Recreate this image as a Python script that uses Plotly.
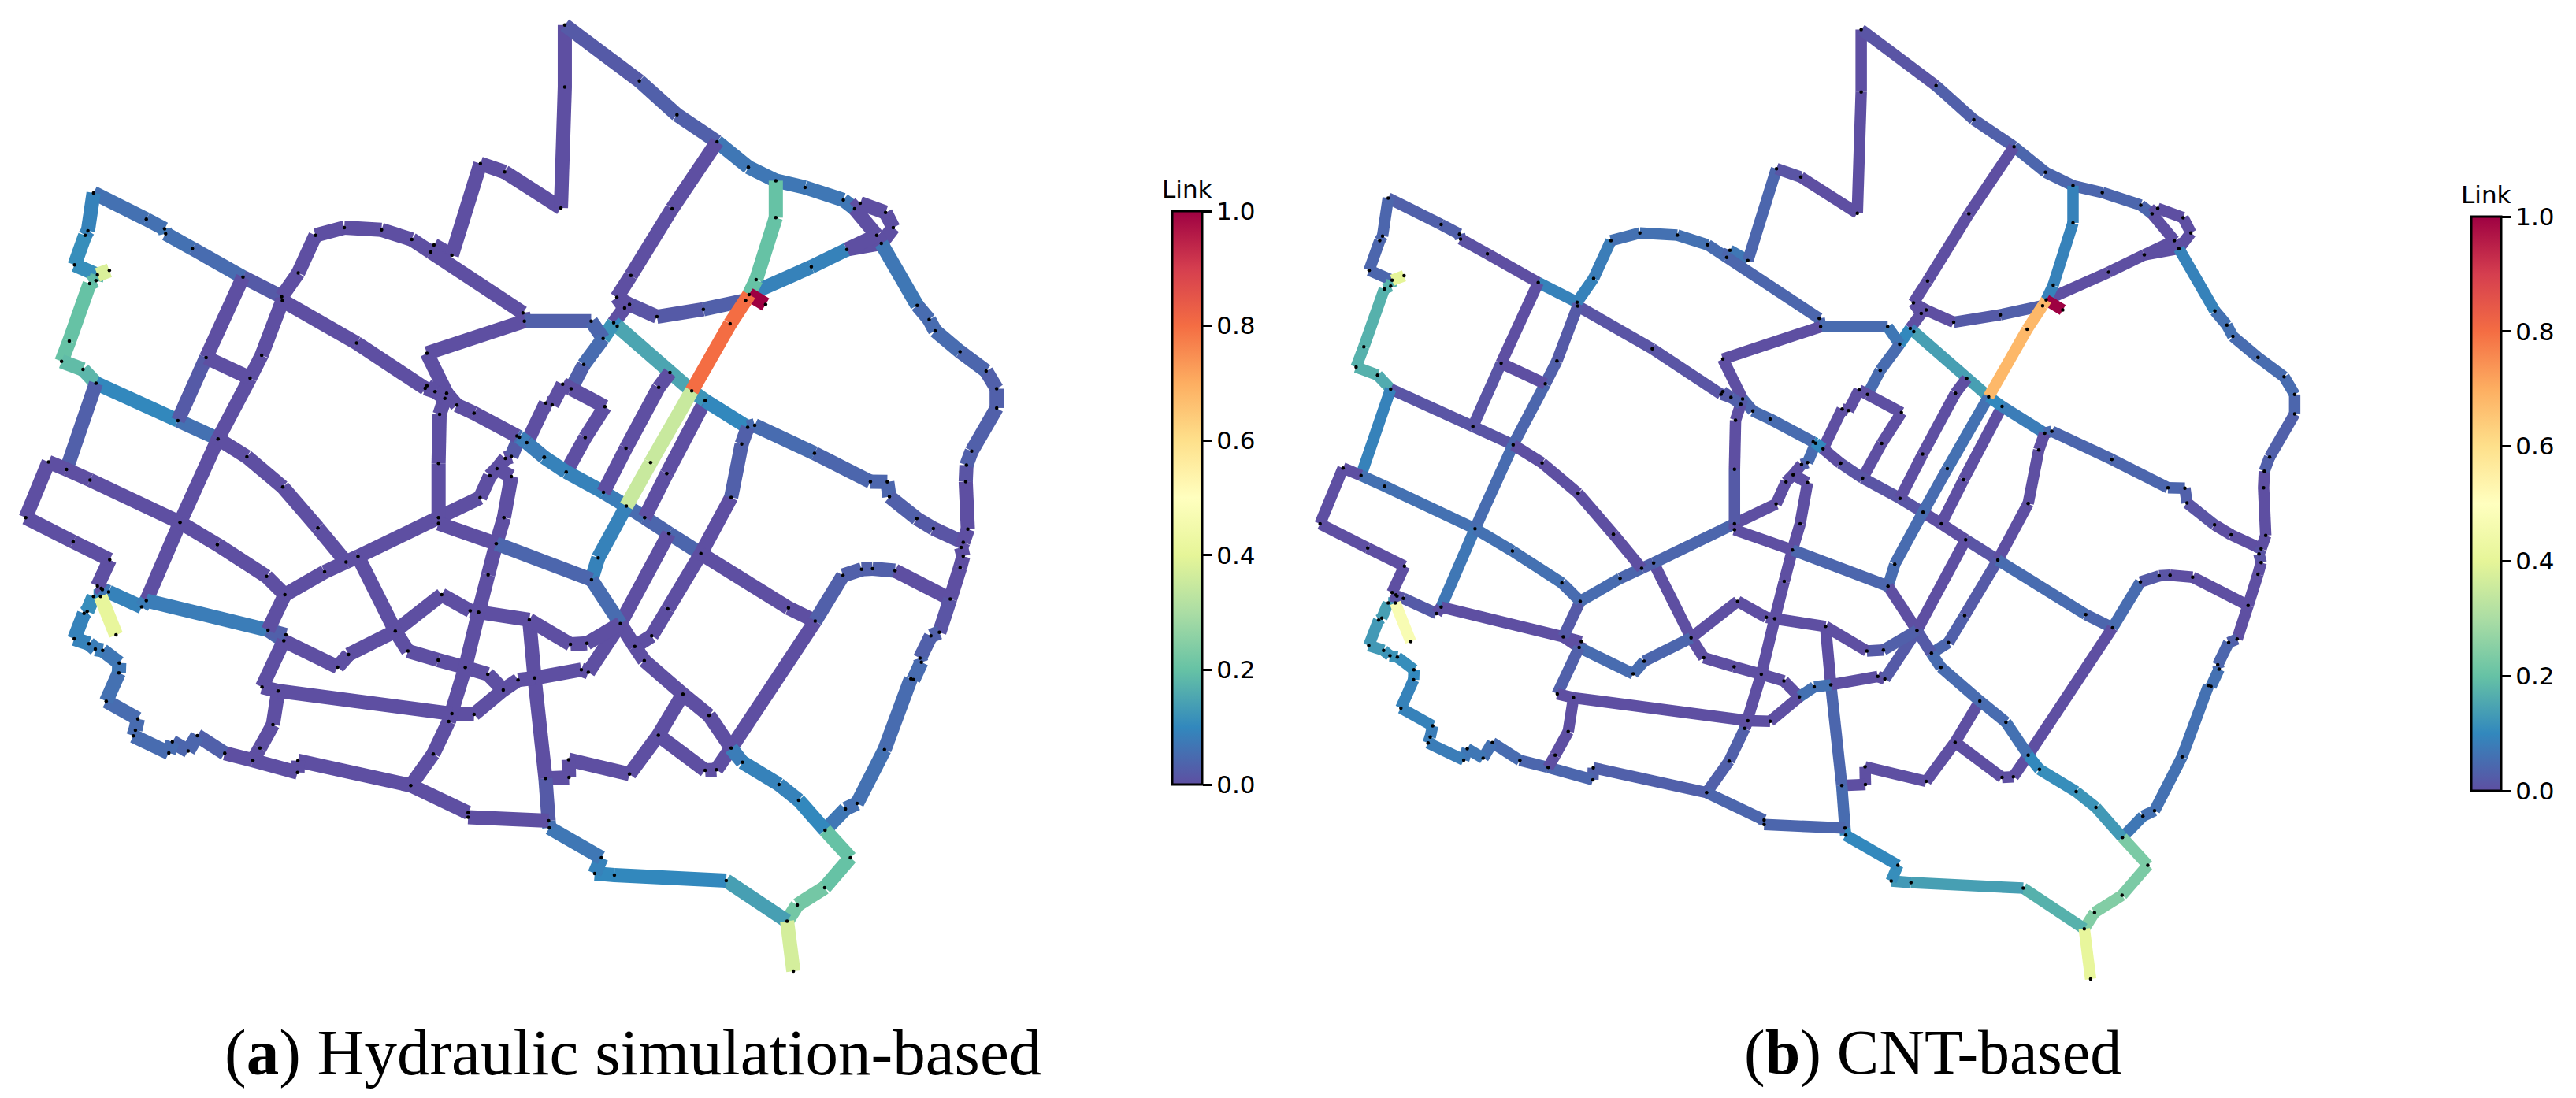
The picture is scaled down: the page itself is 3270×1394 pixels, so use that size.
"""Pipe network link sensitivity, hydraulic simulation vs CNT"""

import plotly.graph_objects as go
from plotly.colors import sample_colorscale

WIDTH = 3270
HEIGHT = 1394

# node positions in map units
node_x = [
    266, 416, 468, 471, 547, 691, 801, 803, 250, 242,
    212, 277, 311, 273, 255, 197, 175, 236, 273, 506,
    620, 586, 711, 744, 848, 897, 979, 1085, 1171, 1234,
    1225, 1285, 1014, 1214, 1209, 1237, 1270, 1265, 1299, 1348,
    1250, 1247, 1214, 1491, 1487, 1366, 1435, 1470, 1477, 1498,
    1547, 1552, 1570, 1437, 1454, 1413, 1393, 1454, 1365, 138,
    189, 256, 702, 804, 1606, 1606, 1595, 1818, 1925, 2039,
    2128, 2206, 2289, 2398, 2430, 2446, 2518, 2540, 2493, 2506,
    2408, 2307, 2206, 2150, 2130, 2120, 2177, 2000, 1868, 1790,
    1776, 1754, 1794, 1911, 1681, 1745, 1755, 1715, 1660, 1600,
    1624, 1720, 1664, 1610, 1548, 2076, 1967, 2005, 1905, 1873,
    1780, 1716, 1850, 1896, 2126, 2146, 2109, 2079, 2316, 2475,
    2523, 2529, 2608, 2642, 2659, 2730, 2804, 2834, 2834, 2763,
    2748, 2746, 73, 208, 312, 277, 288, 291, 309, 286,
    266, 248, 239, 330, 211, 253, 271, 292, 339, 338,
    302, 392, 385, 379, 490, 480, 535, 561, 639, 719,
    739, 776, 791, 745, 847, 846, 1168, 1232, 1276, 1285,
    1348, 1431, 1473, 1520, 1387, 1323, 1246, 1160, 1124, 991,
    960, 813, 807, 762, 810, 758, 618, 512, 416, 403,
    923, 984, 1018, 904, 1247, 1247, 1411, 1433, 1388, 1361,
    1337, 1256, 1505, 1331, 1331, 1551, 1560, 1562, 1781, 1833,
    1902, 1993, 1701, 1682, 1764, 1899, 1853, 1805, 1832, 1622,
    1669, 1653, 1673, 1942, 2016, 2079, 1872, 2005, 2037, 1790,
    1617, 1618, 2242, 2318, 2397, 2450, 2481, 2545, 2702, 2671,
    2647, 2616, 2620, 2590, 2597, 2515, 2437, 2404, 2346, 2271,
    2215, 2111, 2418, 2345, 2267, 2238, 2256, 2065, 1747, 1691,
    1710, 2607, 2654, 2739, 2752, 2733, 2739, 2730,
]
node_y = [
    600, 682, 712, 727, 773, 862, 923, 935, 718, 732,
    824, 855, 841, 873, 882, 1061, 1124, 1149, 1192, 1308,
    1365, 1112, 1176, 1105, 849, 732, 708, 715, 745, 762,
    784, 794, 1067, 1200, 1208, 1218, 1223, 1239, 1260, 1285,
    1289, 1441, 1099, 999, 973, 509, 535, 1356, 1360, 1377,
    1422, 1254, 1259, 1426, 1420, 1458, 1480, 1482, 1548, 1437,
    1460, 1493, 1421, 1515, 78, 271, 647, 252, 357, 441,
    520, 562, 583, 622, 649, 632, 661, 708, 732, 757,
    776, 830, 677, 870, 916, 934, 947, 962, 985, 947,
    958, 925, 857, 649, 999, 1004, 1014, 1053, 1134, 1195,
    1209, 1265, 1361, 1468, 1422, 1007, 1216, 1246, 1159, 1205,
    1394, 1531, 1439, 1473, 1329, 1323, 1381, 1547, 1410, 1498,
    1499, 1545, 950, 994, 1029, 1094, 1154, 1209, 1269, 1403,
    1447, 1498, 1610, 1685, 1741, 1823, 1830, 1834, 1841, 1855,
    1855, 1902, 1908, 1975, 1987, 2002, 2019, 2023, 2062, 2093,
    2181, 2236, 2271, 2289, 2307, 2342, 2336, 2288, 2343, 2365,
    2327, 2254, 2149, 2137, 2366, 2403, 2443, 2345, 2244, 2220,
    2222, 2146, 2115, 2109, 2097, 2076, 2053, 2025, 1963, 2036,
    2075, 1975, 1993, 1960, 1850, 1793, 1694, 1625, 1868, 1888,
    1779, 1748, 1731, 1642, 1610, 1628, 1691, 1610, 1788, 1904,
    1900, 1850, 1928, 2528, 2542, 2421, 2553, 2575, 1574, 1610,
    1659, 1722, 1735, 1803, 1940, 1894, 1978, 2011, 2055, 2004,
    2001, 2083, 2091, 2159, 2225, 2327, 2287, 2396, 2394, 2408,
    2363, 2418, 1891, 1932, 1790, 1771, 1769, 1775, 1863, 1967,
    1978, 2047, 2060, 2111, 2114, 2332, 2499, 2516, 2582, 2489,
    2440, 2371, 2668, 2761, 2815, 2865, 3021, 2739, 2722, 2717,
    2668, 1613, 1644, 1687, 1646, 1703, 1730, 1766,
]

# links: start node, end node, value in panel a, value in panel b
link_from = [
    0, 1, 2, 3, 4, 5, 6, 7, 32, 0,
    8, 9, 10, 11, 11, 13, 14, 15, 16, 17,
    18, 19, 18, 20, 22, 23, 5, 21, 21, 25,
    24, 25, 26, 27, 28, 29, 29, 31, 30, 44,
    43, 43, 42, 45, 46, 66, 65, 64, 67, 68,
    69, 70, 71, 72, 73, 74, 75, 76, 74, 77,
    78, 79, 78, 80, 81, 84, 71, 82, 83, 85,
    105, 106, 85, 87, 88, 89, 89, 91, 91, 92,
    93, 90, 95, 96, 95, 94, 97, 98, 99, 99,
    51, 51, 100, 101, 102, 50, 103, 111, 208, 209,
    210, 117, 211, 215, 216, 210, 107, 113, 108, 109,
    110, 106, 112, 208, 212, 106, 107, 114, 115, 118,
    119, 120, 121, 261, 262, 263, 263, 265, 266, 267,
    264, 131, 130, 129, 128, 127, 126, 125, 124, 123,
    122, 114, 116, 211, 232, 233, 234, 235, 236, 237,
    238, 239, 240, 241, 242, 243, 243, 245, 246, 247,
    233, 225, 228, 227, 226, 226, 229, 230, 231, 223,
    224, 218, 217, 214, 214, 225, 251, 250, 249, 248,
    252, 253, 254, 255, 255, 257, 258, 259, 260, 207,
    206, 205, 173, 173, 221, 222, 214, 220, 219, 202,
    199, 200, 201, 178, 178, 177, 176, 175, 174, 171,
    170, 169, 168, 175, 199, 198, 196, 197, 171, 172,
    168, 167, 166, 203, 204, 164, 164, 165, 159, 158,
    157, 156, 154, 155, 153, 152, 151, 150, 149, 148,
    147, 146, 145, 144, 142, 141, 140, 139, 139, 137,
    138, 137, 136, 135, 134, 133, 132, 59, 60, 61,
    187, 187, 188, 188, 183, 183, 181, 182, 180, 179,
    184, 185, 186, 187, 182, 163, 162, 161, 160, 162,
    184, 190, 191, 192, 191, 193, 63, 62, 194, 58,
    56, 55, 55, 53, 54, 47, 47, 39, 38, 36,
    37, 40, 41, 37, 35, 33, 33, 194, 195, 196,
    48, 49,
]
link_to = [
    1, 2, 3, 4, 5, 6, 7, 32, 34, 8,
    9, 10, 11, 12, 13, 14, 15, 16, 17, 18,
    19, 20, 60, 22, 23, 7, 21, 19, 22, 24,
    6, 26, 27, 28, 30, 30, 31, 45, 44, 43,
    94, 42, 36, 46, 66, 65, 64, 67, 68, 69,
    70, 71, 72, 73, 74, 75, 76, 77, 78, 79,
    79, 80, 80, 81, 84, 86, 82, 83, 84, 84,
    85, 105, 87, 88, 89, 91, 90, 90, 92, 93,
    69, 95, 96, 106, 97, 97, 98, 100, 100, 52,
    52, 49, 101, 102, 103, 103, 111, 208, 209, 210,
    211, 211, 215, 216, 217, 214, 113, 209, 109, 110,
    111, 112, 208, 212, 213, 107, 114, 115, 118, 119,
    120, 121, 261, 262, 263, 264, 265, 266, 267, 238,
    131, 130, 129, 128, 127, 126, 125, 124, 123, 122,
    79, 116, 117, 232, 233, 234, 235, 236, 237, 238,
    239, 240, 241, 242, 244, 244, 245, 246, 247, 248,
    225, 228, 227, 226, 223, 229, 230, 231, 205, 224,
    225, 223, 218, 217, 213, 251, 250, 249, 248, 252,
    253, 254, 255, 256, 257, 258, 259, 260, 207, 206,
    205, 173, 202, 221, 222, 214, 220, 219, 202, 199,
    200, 201, 178, 192, 177, 176, 175, 174, 171, 170,
    169, 168, 175, 199, 198, 196, 197, 57, 172, 173,
    167, 166, 203, 204, 206, 166, 165, 159, 158, 157,
    156, 154, 155, 153, 152, 151, 150, 149, 148, 147,
    146, 145, 144, 142, 141, 140, 139, 143, 137, 138,
    189, 136, 135, 134, 133, 132, 59, 60, 61, 187,
    20, 188, 189, 183, 182, 181, 182, 180, 179, 178,
    183, 184, 185, 186, 163, 162, 161, 160, 159, 169,
    190, 191, 192, 194, 193, 63, 62, 20, 58, 56,
    55, 53, 57, 54, 48, 48, 39, 38, 36, 37,
    40, 41, 194, 35, 34, 34, 35, 195, 196, 213,
    49, 50,
]
link_a = [
    .06, .06, .07, .06, .05, .02, 0, 0, 0, .09,
    .09, .11, .11, .38, .18, .19, .2, .2, .19, .18,
    .1, .06, .03, 0, 0, 0, 0, .02, 0, 0,
    0, 0, 0, 0, 0, 0, 0, 0, 0, 0,
    .03, 0, 0, 0, 0, 0, 0, .02, .03, .03,
    .07, .07, .07, .07, .07, 0, 0, 0, 0, 0,
    0, 0, 0, .09, .09, 1, .2, .2, .2, .8,
    .8, .8, .03, .02, .01, 0, 0, 0, 0, 0,
    0, 0, .1, .15, .12, .04, .05, .03, 0, 0,
    0, 0, 0, 0, 0, .09, .09, .08, .05, .04,
    .04, 0, 0, 0, 0, 0, 0, 0, 0, 0,
    0, .35, .35, .09, .09, .12, .1, .05, .05, .04,
    .04, .04, .03, .02, .01, 0, 0, 0, 0, 0,
    0, .01, .03, .03, .03, .03, .04, .05, .05, .05,
    .07, .03, .03, 0, 0, .03, .03, .03, .03, 0,
    .01, .03, .03, .04, .05, .05, .05, .06, .06, .07,
    0, 0, 0, 0, 0, 0, 0, 0, 0, 0,
    0, 0, 0, 0, .05, .08, .09, .09, .1, .2,
    .2, .22, .22, .37, .14, .1, .1, .09, .07, .06,
    .02, 0, 0, 0, 0, 0, 0, 0, 0, 0,
    0, 0, 0, 0, 0, 0, 0, 0, 0, 0,
    0, 0, 0, 0, 0, 0, 0, 0, 0, 0,
    0, 0, 0, 0, 0, 0, 0, 0, 0, .03,
    .04, .04, .05, .05, .05, .05, .05, .06, .07, .07,
    .08, .08, .09, .09, .09, .11, .11, .41, .07, .07,
    .09, .03, 0, 0, 0, 0, 0, 0, 0, 0,
    0, 0, .08, .08, .04, .03, .03, 0, 0, 0,
    0, 0, 0, 0, 0, 0, 0, 0, 0, 0,
    0, 0, 0, 0, 0, 0, 0, 0, 0, 0,
    0, 0, 0, 0, .02, .05, 0, 0, 0, 0,
    0, 0, 0, 0, 0, 0, 0, 0, 0, .04,
    .08, .08,
]
link_b = [
    .03, .03, .03, .005, 0, .09, .02, .01, .01, .04,
    .04, .04, .04, .4, .17, .17, .17, .17, .17, .16,
    .01, .01, .09, .04, .03, .02, 0, .01, 0, .08,
    .09, .06, .06, .06, .05, .04, .07, .04, .04, .04,
    .05, 0, 0, .01, 0, 0, 0, .01, .03, .03,
    .04, .04, .04, .04, .04, 0, 0, 0, 0, 0,
    0, 0, 0, 0, 0, 1, .09, .09, .09, .68,
    .68, .68, .03, .02, 0, 0, 0, 0, 0, 0,
    0, 0, .08, .14, .1, .07, .05, .05, 0, 0,
    0, 0, 0, 0, 0, .01, .01, .01, 0, 0,
    .01, 0, .02, .03, .04, 0, 0, 0, 0, 0,
    0, .06, .05, .05, .05, .1, .08, .05, .04, .04,
    .04, .03, .01, 0, 0, 0, .01, .01, 0, 0,
    0, 0, .03, .03, .04, .05, .05, .05, .06, .06,
    .09, 0, 0, .05, .04, .05, .02, .01, 0, 0,
    0, .03, .04, .04, .06, .06, .06, .06, .06, .07,
    0, 0, 0, 0, 0, 0, 0, 0, 0, .05,
    .06, .05, .05, .02, 0, .1, .11, .12, .13, .23,
    .23, .24, .24, .41, .17, .14, .13, .11, .1, .1,
    .05, .04, 0, 0, 0, .02, .03, .02, 0, 0,
    0, 0, 0, 0, 0, 0, 0, 0, 0, 0,
    0, 0, 0, 0, 0, 0, 0, 0, .06, .06,
    .03, .03, .04, .04, .04, .03, .03, .04, .04, .05,
    .06, .07, .07, .08, .08, .08, .09, .09, .1, .11,
    .12, .12, .13, .13, .13, .14, .13, .47, .01, .01,
    .02, 0, 0, 0, 0, 0, 0, 0, .06, .06,
    .05, .07, 0, 0, 0, 0, 0, .05, .05, .04,
    .02, .05, .06, .06, .03, 0, 0, 0, 0, 0,
    .05, .04, .03, .04, 0, 0, 0, 0, 0, 0,
    0, 0, 0, .03, .05, .1, .05, .05, .04, .02,
    0, 0, .02, .03, .02, .02, .02, 0, 0, .04,
    .1, 0,
]

colorbar_ticks = [0, 0.2, 0.4, 0.6, 0.8, 1.0]

# map units per reference pixel, and the visible range of each panel
SPLIT_PX = 1640
X_UNIT = 2.24
Y_UNIT = 2.45
RANGE_A_X = [0, SPLIT_PX * X_UNIT]
RANGE_A_Y = [HEIGHT * Y_UNIT, 0]
RANGE_B_X = [-6.7, 3631]
RANGE_B_Y = [3389.6, -13.8]


def add_network(fig, values, line_width, xaxis, yaxis):
    """Draw one trace per link so each keeps its own colour, then the nodes on top"""
    order = sorted(range(len(values)), key=lambda i: values[i] > 0.3)
    colors = sample_colorscale("Spectral_r", list(values))
    for i in order:
        fig.add_trace(go.Scatter(
            x=[node_x[link_from[i]], node_x[link_to[i]]],
            y=[node_y[link_from[i]], node_y[link_to[i]]],
            mode="lines",
            line={"color": colors[i], "width": line_width},
            hoverinfo="skip",
            showlegend=False,
            xaxis=xaxis,
            yaxis=yaxis,
        ))
    fig.add_trace(go.Scatter(
        x=node_x,
        y=node_y,
        mode="markers",
        marker={"color": "black", "size": 4.5},
        hoverinfo="skip",
        showlegend=False,
        xaxis=xaxis,
        yaxis=yaxis,
    ))


def add_colorbar(fig, left_px, top_px, bottom_px, width_px):
    """Empty trace that only carries the colour bar"""
    fig.add_trace(go.Scatter(
        x=[None, None],
        y=[None, None],
        mode="markers",
        hoverinfo="skip",
        showlegend=False,
        marker={
            "color": [0, 1],
            "cmin": 0,
            "cmax": 1,
            "colorscale": "Spectral_r",
            "showscale": True,
            "colorbar": {
                "x": left_px / WIDTH,
                "xanchor": "left",
                "xpad": 0,
                "ypad": 0,
                "y": 1 - top_px / HEIGHT,
                "yanchor": "top",
                "len": bottom_px - top_px,
                "lenmode": "pixels",
                "thickness": width_px,
                "thicknessmode": "pixels",
                "outlinewidth": 3,
                "outlinecolor": "black",
                "tickmode": "array",
                "tickvals": colorbar_ticks,
                "ticktext": [f"{t:.1f}" for t in colorbar_ticks],
                "ticks": "outside",
                "ticklen": 11,
                "tickwidth": 3,
                "tickcolor": "black",
                "tickfont": {"family": "DejaVu Sans", "size": 31, "color": "black"},
            },
        },
    ))
    fig.add_annotation(
        text="Link", xref="paper", yref="paper",
        x=(left_px + width_px / 2) / WIDTH, y=1 - (top_px - 8) / HEIGHT,
        xanchor="center", yanchor="bottom", showarrow=False,
        font={"family": "DejaVu Sans", "size": 31, "color": "black"},
    )


def add_caption(fig, text, center_px, size):
    fig.add_annotation(
        text=text, xref="paper", yref="paper",
        x=center_px / WIDTH, y=1 - 1336 / HEIGHT,
        xanchor="center", yanchor="middle", showarrow=False,
        font={"family": "Liberation Serif", "size": size, "color": "black"},
    )


fig = go.Figure()
add_network(fig, link_a, 18, "x", "y")
add_network(fig, link_b, 14.5, "x2", "y2")
add_colorbar(fig, 1488, 268, 996, 38)
add_colorbar(fig, 3137, 275, 1004, 38)
add_caption(fig, "(<b>a</b>) Hydraulic simulation-based", 803, 83)
add_caption(fig, "(<b>b</b>) CNT-based", 2453, 80)

hidden = {"visible": False, "showgrid": False, "zeroline": False}
fig.update_layout(
    width=WIDTH,
    height=HEIGHT,
    margin={"l": 0, "r": 0, "t": 0, "b": 0},
    paper_bgcolor="white",
    plot_bgcolor="white",
    xaxis={**hidden, "domain": [0, SPLIT_PX / WIDTH], "range": RANGE_A_X},
    yaxis={**hidden, "domain": [0, 1], "range": RANGE_A_Y},
    xaxis2={**hidden, "domain": [SPLIT_PX / WIDTH, 1], "range": RANGE_B_X},
    yaxis2={**hidden, "domain": [0, 1], "range": RANGE_B_Y, "anchor": "x2"},
)

fig.write_html(
    "out.html",
    config={"displayModeBar": False},
    post_script="document.body.style.margin = '0';",
)
